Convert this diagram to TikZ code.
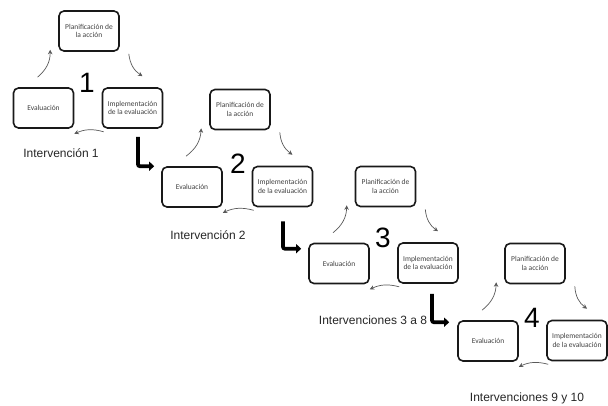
\documentclass[tikz,border=0pt]{standalone}
\usepackage{fontspec}
\setmainfont{Liberation Sans}
\newfontfamily\boxfont{Carlito}
\usetikzlibrary{arrows.meta}

\tikzset{
  stage/.style={draw=black!90, line width=1.6pt, rounded corners=5pt,
    minimum width=60pt, minimum height=40pt, align=center, inner sep=1pt,
    font=\boxfont\fontsize{7.5}{8.5}\selectfont, text=black!75},
  turn/.style={draw=black!65, line width=0.7pt, -{Stealth[length=4.5pt,width=4.5pt]}},
  jump/.style={line width=3.8pt, rounded corners=2pt, -{Triangle[length=5pt,width=9pt]}},
  cyclenum/.style={font=\fontsize{28}{28}\selectfont},
  caption/.style={font=\fontsize{12}{14}\selectfont, text=black!85}
}

\begin{document}
\begin{tikzpicture}[x=1pt,y=-1pt]

    % --- Canvas ---
    \useasboundingbox (0,0) rectangle (608,405);

    % --- Cycle 1 ---
    % Boxes of the first cycle
    \node[stage] (eval1) at (43.5,108) {Evaluación};
    \node[stage] (plan1) at (89,31) {Planificación de\\la acción};
    \node[stage] (impl1) at (132.5,108) {Implementación\\de la evaluación};
    % Number and caption
    \node[cyclenum] (num1) at (87,83) {1};
    \node[caption] (cap1) at (61,153) {Intervención 1};
    % Curved arrows round the cycle
    \draw[turn] ([shift={(-6,-10)}]eval1.north) to[bend right=25] ([shift={(-8,-2)}]plan1.south west);
    \draw[turn] ([shift={(9,2)}]plan1.south east) to[bend right=25] ([shift={(10,-11)}]impl1.north);
    \draw[turn] ([shift={(2,3)}]impl1.south west) to[bend right=20] ([shift={(0,5)}]eval1.south east);

    % --- Cycle 2 ---
    % Boxes of the second cycle
    \node[stage] (eval2) at (192,187) {Evaluación};
    \node[stage] (plan2) at (240,109.5) {Planificación de\\la acción};
    \node[stage] (impl2) at (282.5,186.5) {Implementación\\de la evaluación};
    % Number and caption
    \node[cyclenum] (num2) at (238,164) {2};
    \node[caption] (cap2) at (208,235) {Intervención 2};
    % Curved arrows round the cycle
    \draw[turn] ([shift={(-6,-10)}]eval2.north) to[bend right=25] ([shift={(-8,-2)}]plan2.south west);
    \draw[turn] ([shift={(9,2)}]plan2.south east) to[bend right=25] ([shift={(10,-11)}]impl2.north);
    \draw[turn] ([shift={(2,3)}]impl2.south west) to[bend right=20] ([shift={(0,5)}]eval2.south east);

    % --- Cycle 3 ---
    % Boxes of the third cycle
    \node[stage] (eval3) at (339,263.5) {Evaluación};
    \node[stage] (plan3) at (385.5,186.5) {Planificación de\\la acción};
    \node[stage] (impl3) at (428,263) {Implementación\\de la evaluación};
    % Number and caption
    \node[cyclenum] (num3) at (383,238) {3};
    \node[caption] (cap3) at (373,320) {Intervenciones 3 a 8};
    % Curved arrows round the cycle
    \draw[turn] ([shift={(-6,-10)}]eval3.north) to[bend right=25] ([shift={(-8,-2)}]plan3.south west);
    \draw[turn] ([shift={(9,2)}]plan3.south east) to[bend right=25] ([shift={(10,-11)}]impl3.north);
    \draw[turn] ([shift={(2,3)}]impl3.south west) to[bend right=20] ([shift={(0,5)}]eval3.south east);

    % --- Cycle 4 ---
    % Boxes of the fourth cycle
    \node[stage] (eval4) at (488,341) {Evaluación};
    \node[stage] (plan4) at (535,263.5) {Planificación de\\la acción};
    \node[stage] (impl4) at (577,340.5) {Implementación\\de la evaluación};
    % Number and caption
    \node[cyclenum] (num4) at (532,318) {4};
    \node[caption] (cap4) at (527,398) {Intervenciones 9 y 10};
    % Curved arrows round the cycle
    \draw[turn] ([shift={(-6,-10)}]eval4.north) to[bend right=25] ([shift={(-8,-2)}]plan4.south west);
    \draw[turn] ([shift={(9,2)}]plan4.south east) to[bend right=25] ([shift={(10,-11)}]impl4.north);
    \draw[turn] ([shift={(2,3)}]impl4.south west) to[bend right=20] ([shift={(0,5)}]eval4.south east);

    % --- Steps from one cycle to the next ---
    \draw[jump] ([shift={(5.5,8)}]impl1.south) |- ([shift={(-7,0)}]eval2.north west);
    \draw[jump] ([shift={(0.5,14)}]impl2.south) |- ([shift={(-7,6)}]eval3.north west);
    \draw[jump] ([shift={(4,10)}]impl3.south) |- ([shift={(-8,2)}]eval4.north west);

\end{tikzpicture}
\end{document}
